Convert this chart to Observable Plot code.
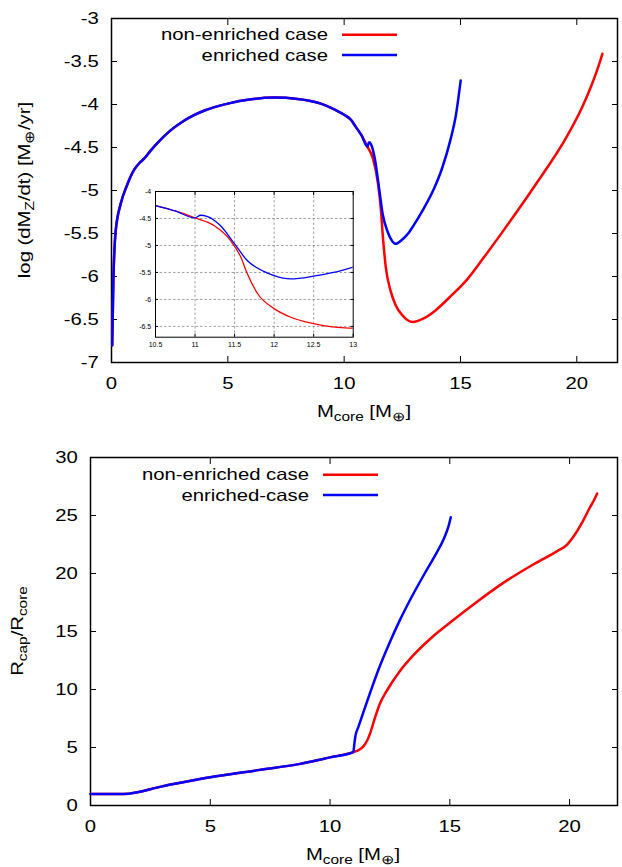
<!DOCTYPE html>
<html><head><meta charset="utf-8">
<script src="https://cdn.jsdelivr.net/npm/d3@7"></script>
<script src="https://cdn.jsdelivr.net/npm/@observablehq/plot@0.6"></script>
<style>
body{margin:0;background:#fff;}
#wrap{position:relative;width:622px;height:867px;}
#wrap svg{display:block;}
</style></head><body><div id="wrap"></div>
<script>
// ---------- Data ----------
// Top panel: log(dMz/dt) vs core mass
const topNonX = [0.03, 0.08, 0.18, 0.4, 0.65, 0.97, 1.2, 1.4, 1.7, 2.0, 2.5, 3.0, 3.5, 4.0, 5.0, 6.0, 7.0, 8.0, 9.0, 9.6, 10.0, 10.3, 10.5, 10.75, 11.0, 11.24, 11.45, 11.58, 11.66, 11.79, 12.0, 12.21, 12.5, 12.95, 13.4, 13.9, 14.5, 15.3, 16.0, 16.73, 18.16, 19.6, 20.2, 20.6, 20.9, 21.1];
const topNonY = [-6.8, -6.05, -5.47, -5.15, -4.95, -4.76, -4.68, -4.63, -4.53, -4.44, -4.31, -4.21, -4.13, -4.07, -3.99, -3.94, -3.92, -3.935, -3.99, -4.06, -4.12, -4.18, -4.26, -4.36, -4.49, -4.63, -4.91, -5.22, -5.52, -5.89, -6.17, -6.33, -6.45, -6.53, -6.49, -6.40, -6.25, -6.03, -5.78, -5.51, -4.96, -4.36, -4.05, -3.80, -3.58, -3.41];
const topEnrX = [0.03, 0.08, 0.18, 0.4, 0.65, 0.97, 1.2, 1.4, 1.7, 2.0, 2.5, 3.0, 3.5, 4.0, 5.0, 6.0, 7.0, 8.0, 9.0, 9.6, 10.0, 10.3, 10.5, 10.75, 11.0, 11.07, 11.15, 11.32, 11.5, 11.66, 11.87, 12.0, 12.21, 12.5, 12.75, 13.0, 13.4, 13.86, 14.2, 14.58, 14.8, 15.01];
const topEnrY = [-6.8, -6.05, -5.47, -5.15, -4.95, -4.76, -4.68, -4.63, -4.53, -4.44, -4.31, -4.21, -4.13, -4.07, -3.99, -3.94, -3.92, -3.935, -3.99, -4.06, -4.12, -4.18, -4.26, -4.36, -4.49, -4.44, -4.46, -4.63, -4.97, -5.28, -5.48, -5.56, -5.62, -5.57, -5.50, -5.40, -5.22, -4.98, -4.75, -4.40, -4.13, -3.72];
const topXTicks = [0, 5, 10, 15, 20];
const topYTicks = [-7, -6.5, -6, -5.5, -5, -4.5, -4, -3.5, -3];
const insetXTicks = [10.5, 11, 11.5, 12, 12.5, 13];
const insetYTicks = [-6.5, -6, -5.5, -5, -4.5, -4];

// Bottom panel: Rcap/Rcore vs core mass
const botNonX = [0, 1.39, 3.0, 5.0, 7.0, 8.75, 10.0, 10.97, 11.2, 11.39, 11.55, 11.67, 11.85, 12.08, 12.4, 12.92, 13.5, 14.2, 15.0, 16.0, 17.2, 18.5, 19.5, 19.85, 20.2, 20.55, 20.85, 21.04, 21.15];
const botNonY = [1, 1, 1.65, 2.44, 3.05, 3.59, 4.15, 4.6, 4.78, 5.1, 5.6, 6.2, 7.4, 8.77, 10.0, 11.6, 13.0, 14.4, 15.75, 17.35, 19.15, 20.8, 21.95, 22.4, 23.3, 24.5, 25.7, 26.4, 26.9];
const botEnrX = [0, 1.39, 3.0, 5.0, 7.0, 8.75, 10.0, 10.97, 11.02, 11.06, 11.18, 11.4, 11.67, 12.0, 12.5, 12.92, 13.4, 13.95, 14.4, 14.75, 14.95, 15.04];
const botEnrY = [1, 1, 1.65, 2.44, 3.05, 3.59, 4.15, 4.6, 5.4, 6.0, 6.75, 8.1, 9.7, 11.6, 14.1, 16.0, 17.95, 20.0, 21.6, 23.0, 24.1, 24.85];
const botXTicks = [0, 5, 10, 15, 20];
const botYTicks = [0, 5, 10, 15, 20, 25, 30];

const legendTop = ["non-enriched case", "enriched case"];
const legendBot = ["non-enriched case", "enriched-case"];
const colors = ["#ff0000", "#0000ff"];

// ---------- Helpers ----------
const rows = (xs, ys) => xs.map((x, i) => ({x, y: ys[i]}));
const F = d => String(d);
const blank = () => "";
const FONT = "'Liberation Sans', Arial, Helvetica, sans-serif";
const FS = 16.5;

function frameAxes(xt, yt, ts, padX, padY) {
  return [
    Plot.axisX({anchor: "bottom", ticks: xt, tickSize: -ts, tickPadding: padX, tickFormat: F, label: null}),
    Plot.axisX({anchor: "top", ticks: xt, tickSize: -ts, tickFormat: blank, label: null}),
    Plot.axisY({anchor: "left", ticks: yt, tickSize: -ts, tickPadding: padY, tickFormat: F, label: null}),
    Plot.axisY({anchor: "right", ticks: yt, tickSize: -ts, tickFormat: blank, label: null})
  ];
}

function addSubText(sel, parts, size, sub) {
  parts.forEach(([t, isSub], i) => {
    const prev = i > 0 ? parts[i - 1][1] : false;
    const sp = sel.append("tspan").text(t);
    if (isSub && !prev) sp.attr("dy", 4).attr("font-size", sub);
    else if (isSub) sp.attr("font-size", sub);
    else if (!isSub && prev) sp.attr("dy", -4);
  });
}

function legend(svg, labels, xEnd, x1, x2, ys) {
  const s = d3.select(svg);
  labels.forEach((lab, i) => {
    s.append("text").attr("x", xEnd).attr("y", ys[i]).attr("dy", "0.35em")
      .attr("text-anchor", "end").attr("font-size", FS).attr("fill", "black").text(lab);
    s.append("line").attr("x1", x1).attr("x2", x2).attr("y1", ys[i]).attr("y2", ys[i])
      .attr("stroke", colors[i]).attr("stroke-width", 2.5);
  });
}

function stretch(svg, f) {
  svg.querySelectorAll("text").forEach(t => {
    const L = t.getComputedTextLength();
    if (L > 0) { t.setAttribute("textLength", L * f); t.setAttribute("lengthAdjust", "spacingAndGlyphs"); }
  });
}

const wrap = document.getElementById("wrap");

// ---------- Top panel ----------
const topSvg = Plot.plot({
  width: 622, height: 430, marginLeft: 111, marginRight: 5, marginTop: 18, marginBottom: 68,
  style: {fontFamily: FONT, fontSize: FS + "px", background: "white", color: "black"},
  x: {domain: [0, 21.75]},
  y: {domain: [-7, -3]},
  marks: [
    ...frameAxes(topXTicks, topYTicks, 6, 21, 18.7),
    Plot.frame({stroke: "black", strokeWidth: 1.5}),
    Plot.line(rows(topNonX, topNonY), {x: "x", y: "y", stroke: colors[0], strokeWidth: 2.5, curve: "monotone-x"}),
    Plot.line(rows(topEnrX, topEnrY), {x: "x", y: "y", stroke: colors[1], strokeWidth: 2.5, curve: "monotone-x"})
  ]
});
wrap.appendChild(topSvg);
{
  const s = d3.select(topSvg);
  const xl = s.append("text").attr("x", 364).attr("y", 417).attr("text-anchor", "middle").attr("font-size", FS).attr("fill", "black");
  addSubText(xl, [["M", false], ["core", true], [" [M", false], ["\u2295", true], ["]", false]], FS, 12.5);
  const yl = s.append("text").attr("transform", "translate(30,190) rotate(-90)").attr("text-anchor", "middle").attr("font-size", FS).attr("fill", "black");
  addSubText(yl, [["log (dM", false], ["Z", true], ["/dt) [M", false], ["\u2295", true], ["/yr]", false]], FS, 12.5);
  legend(topSvg, legendTop, 328, 342, 397, [34.7, 55]);
}
stretch(topSvg, 1.23);

// ---------- Inset ----------
const insetSvg = Plot.plot({
  width: 240, height: 175, marginLeft: 35, marginRight: 7.3, marginTop: 11, marginBottom: 18.3,
  style: {fontFamily: FONT, fontSize: "7px", background: "transparent", color: "black"},
  x: {domain: [10.5, 13]},
  y: {domain: [-6.7, -4]},
  marks: [
    Plot.frame({fill: "white"}),
    Plot.gridX(insetXTicks.slice(1, -1), {stroke: "#8a8a8a", strokeOpacity: 1, strokeDasharray: "2.5,2", strokeWidth: 0.8}),
    Plot.gridY(insetYTicks.slice(0, -1), {stroke: "#8a8a8a", strokeOpacity: 1, strokeDasharray: "2.5,2", strokeWidth: 0.8}),
    ...frameAxes(insetXTicks, insetYTicks, 3, 8, 7.3),
    Plot.line(rows(topNonX, topNonY), {x: "x", y: "y", stroke: colors[0], strokeWidth: 1.3, curve: "monotone-x", clip: true}),
    Plot.line(rows(topEnrX, topEnrY), {x: "x", y: "y", stroke: colors[1], strokeWidth: 1.3, curve: "monotone-x", clip: true}),
    Plot.frame({stroke: "black", strokeWidth: 1})
  ]
});
insetSvg.style.position = "absolute";
insetSvg.style.left = "120px";
insetSvg.style.top = "180px";
wrap.appendChild(insetSvg);

// ---------- Bottom panel ----------
const botSvg = Plot.plot({
  width: 622, height: 437, marginLeft: 90, marginRight: 5, marginTop: 27, marginBottom: 62,
  style: {fontFamily: FONT, fontSize: FS + "px", background: "white", color: "black"},
  x: {domain: [0, 22]},
  y: {domain: [0, 30]},
  marks: [
    ...frameAxes(botXTicks, botYTicks, 6, 21, 18.7),
    Plot.frame({stroke: "black", strokeWidth: 1.5}),
    Plot.line(rows(botNonX, botNonY), {x: "x", y: "y", stroke: colors[0], strokeWidth: 2.5, curve: "monotone-x"}),
    Plot.line(rows(botEnrX, botEnrY), {x: "x", y: "y", stroke: colors[1], strokeWidth: 2.5, curve: "monotone-x"})
  ]
});
wrap.appendChild(botSvg);
{
  const s = d3.select(botSvg);
  const xl = s.append("text").attr("x", 353).attr("y", 430).attr("text-anchor", "middle").attr("font-size", FS).attr("fill", "black");
  addSubText(xl, [["M", false], ["core", true], [" [M", false], ["\u2295", true], ["]", false]], FS, 12.5);
  const yl = s.append("text").attr("transform", "translate(23,201) rotate(-90)").attr("text-anchor", "middle").attr("font-size", FS).attr("fill", "black");
  addSubText(yl, [["R", false], ["cap", true], ["/R", false], ["core", true]], FS, 12.5);
  legend(botSvg, legendBot, 309, 323, 378, [44.7, 65]);
}
stretch(botSvg, 1.23);
</script>
</body></html>
